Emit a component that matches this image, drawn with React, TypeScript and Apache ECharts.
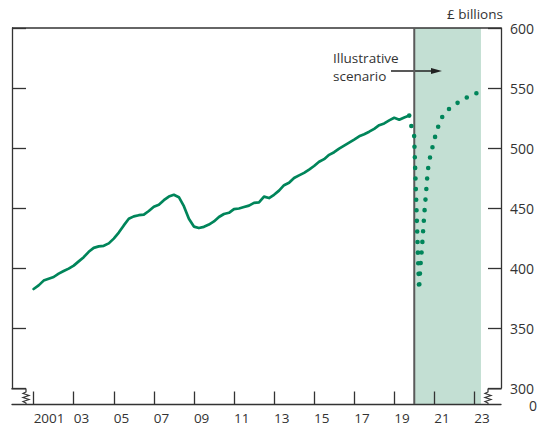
import React, { useEffect, useRef } from 'react';
import * as echarts from 'echarts';

// ---- Data ----
const FIRST_YEAR = 2001; // first quarter plotted (2001 Q1)
// Quarterly values, £ billions, 2001 Q1 .. 2019 Q4
const quarterlyValues = [
  382.5, 385.5, 389.5, 391, // 2001
  392.5, 395.3, 397.5, 399.5, // 2002
  402, 405.5, 409, 413.5, // 2003
  416.8, 418, 418.5, 420.5, // 2004
  424.5, 429.5, 435.5, 441, // 2005
  443, 444, 444.5, 447.5, // 2006
  451, 452.8, 456.5, 459.5, // 2007
  461, 459, 451.5, 441, // 2008
  434.5, 433.3, 434.3, 436.2, // 2009
  438.8, 442.5, 445, 446, // 2010
  449, 449.6, 450.8, 452, // 2011
  454.3, 454.7, 459.5, 458.3, // 2012
  461, 464.5, 469, 471, // 2013
  475, 477.2, 479.3, 482, // 2014
  485, 488.5, 490.7, 494.3, // 2015
  496.5, 499.5, 502, 504.5, // 2016
  507, 509.7, 511.5, 513.6, // 2017
  516, 519, 520.5, 523, // 2018
  525.2, 523.6, 525.5, 527, // 2019
];

// Illustrative scenario path (dotted)
const scenarioYears = [
  2019.75, 2019.84, 2019.99, 2020.24, 2020.3, 2020.39, 2020.5, 2020.59, 2020.67,
  2020.75, 2020.87, 2021.0, 2021.14, 2021.32, 2021.62, 2022.05, 2022.5, 2022.97, 2023.27,
];
const scenarioValues = [
  527, 519, 512, 382, 400, 418, 445, 463, 480.5,
  489.5, 498, 507, 515, 524, 531, 536.5, 541, 545, 546.5,
];

const xTickYears = [2001, 2003, 2005, 2007, 2009, 2011, 2013, 2015, 2017, 2019, 2021, 2023];
const xTickLabels = ['2001', '03', '05', '07', '09', '11', '13', '15', '17', '19', '21', '23'];
const yTicks = [300, 350, 400, 450, 500, 550, 600];

const shadeStart = 2020;
const shadeEnd = 2023.33;

const X_MIN = 1999.92;
const X_MAX = 2024.33;

const FONT = '"Open Sans", "Noto Sans", sans-serif';
const GREEN = '#00855a';
const AXIS = '#333333';

export default function App() {
  const ref = useRef<HTMLDivElement | null>(null);

  useEffect(() => {
    if (!ref.current) return;
    const chart = echarts.init(ref.current, null, { renderer: 'svg' });

    const solid = quarterlyValues.map((v, i) => [FIRST_YEAR + i * 0.25, v]);
    const scen = scenarioYears.map((y, i) => [y, scenarioValues[i]]);

    const yBase = {
      type: 'value',
      min: yTicks[0],
      max: yTicks[yTicks.length - 1],
      interval: 50,
      splitLine: { show: false },
      axisLine: { show: true, lineStyle: { color: AXIS, width: 1.3 } },
    };

    const option: any = {
      animation: false,
      grid: { left: 12, right: 39, top: 28, height: 360, containLabel: false },
      xAxis: {
        type: 'value',
        min: X_MIN,
        max: X_MAX,
        position: 'bottom',
        offset: 16,
        splitLine: { show: false },
        axisLine: { show: true, onZero: false, lineStyle: { color: AXIS, width: 1.3 } },
        axisTick: {
          show: true,
          inside: true,
          length: 12.5,
          customValues: xTickYears,
          lineStyle: { color: AXIS, width: 1.3 },
        },
        axisLabel: {
          show: true,
          customValues: xTickYears,
          formatter: (v: number) => {
            const i = xTickYears.indexOf(Math.round(v));
            return i >= 0 ? xTickLabels[i] : '';
          },
          align: 'left',
          margin: 7,
          fontSize: 13.5,
          lineHeight: 14,
          color: AXIS,
          fontFamily: FONT,
        },
      },
      yAxis: [
        {
          ...yBase,
          position: 'left',
          axisTick: { show: true, inside: true, length: 14, lineStyle: { color: AXIS, width: 1.3 } },
          axisLabel: { show: false },
        },
        {
          ...yBase,
          position: 'right',
          axisTick: { show: true, inside: true, length: 13, lineStyle: { color: AXIS, width: 1.3 } },
          axisLabel: { show: true, margin: 9, fontSize: 14, color: AXIS, fontFamily: FONT },
        },
      ],
      series: [
        {
          type: 'line',
          data: solid,
          symbol: 'none',
          yAxisIndex: 0,
          lineStyle: { color: GREEN, width: 2.7, join: 'round', cap: 'round' },
          z: 3,
        },
        {
          type: 'line',
          data: scen,
          symbol: 'none',
          yAxisIndex: 0,
          lineStyle: { color: GREEN, width: 4.6, type: [0, 10.6], cap: 'round' },
          z: 3,
        },
      ],
    };

    chart.setOption(option);

    const px = (v: number) => chart.convertToPixel({ xAxisIndex: 0 }, v) as number;
    const x0 = px(shadeStart);
    const x1 = px(shadeEnd);
    const top = 28;
    const base = 404;
    const L = 12;
    const R = 501;

    chart.setOption({
      graphic: [
        {
          type: 'rect',
          z: -1,
          shape: { x: x0, y: top, width: x1 - x0, height: base - top },
          style: { fill: '#c3dfd3' },
        },
        {
          type: 'line',
          z: 1,
          shape: { x1: x0, y1: top, x2: x0, y2: base },
          style: { stroke: '#5a5a5a', lineWidth: 2 },
        },
        {
          type: 'line',
          shape: { x1: L, y1: top, x2: R, y2: top },
          style: { stroke: AXIS, lineWidth: 1.3 },
        },
        {
          type: 'polyline',
          shape: {
            points: [
              [L, 388], [L, 389], [26, 389], [26, 392], [23, 393.5], [29, 395.5],
              [23, 397.5], [29, 399.5], [23, 401.5], [26, 403], [26, base],
            ],
          },
          style: { stroke: AXIS, lineWidth: 1.2, fill: null },
        },
        {
          type: 'polyline',
          shape: {
            points: [
              [R, 388], [R, 389], [488, 389], [488, 392], [485, 393.5], [491, 395.5],
              [485, 397.5], [491, 399.5], [485, 401.5], [488, 403], [488, base],
            ],
          },
          style: { stroke: AXIS, lineWidth: 1.2, fill: null },
        },
        {
          type: 'text',
          style: {
            text: '£ billions', x: 447, y: 14, fill: AXIS,
            font: `13.5px ${FONT}`, textAlign: 'left', textVerticalAlign: 'middle',
          },
        },
        {
          type: 'text',
          style: {
            text: '0', x: 537, y: 405, fill: AXIS,
            font: `14px ${FONT}`, textAlign: 'right', textVerticalAlign: 'middle',
          },
        },
        {
          type: 'text',
          style: {
            text: 'Illustrative', x: 333, y: 58, fill: AXIS,
            font: `13.5px ${FONT}`, textAlign: 'left', textVerticalAlign: 'middle',
          },
        },
        {
          type: 'text',
          style: {
            text: 'scenario', x: 333, y: 76, fill: AXIS,
            font: `13.5px ${FONT}`, textAlign: 'left', textVerticalAlign: 'middle',
          },
        },
        {
          type: 'line',
          shape: { x1: 391, y1: 71, x2: 433, y2: 71 },
          style: { stroke: '#222', lineWidth: 1.5 },
        },
        {
          type: 'polygon',
          shape: { points: [[431, 68], [442, 71], [431, 74]] },
          style: { fill: '#222' },
        },
      ],
    });

    return () => chart.dispose();
  }, []);

  return (
    <div
      ref={ref}
      style={{ position: 'fixed', left: 0, top: 0, width: 540, height: 427, background: '#fff' }}
    />
  );
}
